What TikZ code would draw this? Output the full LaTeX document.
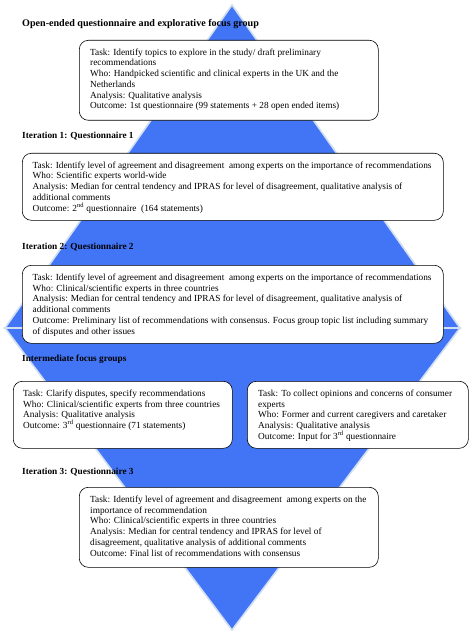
\documentclass[tikz,border=0pt]{standalone}
\usepackage{fontspec}
\setmainfont{Liberation Serif}
\definecolor{diamondblue}{RGB}{66,116,246}
\definecolor{diamondedge}{RGB}{208,222,242}
\begin{document}
\begin{tikzpicture}[
        x=1pt, y=-1pt,
        tri/.style={fill=diamondblue, draw=diamondedge, line width=1.6pt},
        rect/.style={rectangle, rounded corners=9pt, draw=black, fill=white, line width=0.6pt, anchor=north west},
        txt/.style={anchor=north west, align=left, inner sep=0pt, font=\fontsize{9.3}{10.75}\selectfont},
        head/.style={anchor=west, inner sep=0pt, font=\fontsize{9.3}{10.75}\selectfont\bfseries}
    ]
    \useasboundingbox (0,0) rectangle (470,639);

    % diamond behind the stages
    \coordinate (top) at (232,5);
    \coordinate (left) at (5,328);
    \coordinate (right) at (460,328);
    \coordinate (bottom) at (232,630);
    \filldraw[tri] (top) -- (right) -- (left) -- cycle;
    \filldraw[tri] (left) -- (right) -- (bottom) -- cycle;

    % headings
    \node[head, font=\fontsize{10.1}{12}\selectfont\bfseries] (h0) at (22,24) {Open-ended questionnaire and explorative focus group};
    \node[head] (h1) at (22,136) {Iteration 1: Questionnaire 1};
    \node[head] (h2) at (22,247) {Iteration 2: Questionnaire 2};
    \node[head] (h3) at (22,359) {Intermediate focus groups};
    \node[head] (h4) at (22,472) {Iteration 3: Questionnaire 3};

    % boxes
    \node[rect, minimum width=299pt, minimum height=80pt] (open) at (79,40) {};
    \node[rect, minimum width=421pt, minimum height=67pt] (q1) at (22,153) {};
    \node[rect, minimum width=421pt, minimum height=78pt] (q2) at (22,265) {};
    \node[rect, minimum width=219pt, minimum height=67pt] (fgexp) at (13,381) {};
    \node[rect, minimum width=221pt, minimum height=67pt] (fgcons) at (247,381) {};
    \node[rect, minimum width=299pt, minimum height=80pt] (q3) at (79,487) {};

    \node[txt] (opentxt) at ([xshift=11pt, yshift=-8.5pt]open.north west) {
        Task: Identify topics to explore in the study/ draft preliminary\\
        recommendations\\
        Who: Handpicked scientific and clinical experts in the UK and the\\
        Netherlands\\
        Analysis: Qualitative analysis\\
        Outcome: 1st questionnaire (99 statements + 28 open ended items)
    };
    \node[txt] (q1txt) at ([xshift=10.5pt, yshift=-8.5pt]q1.north west) {
        Task: Identify level of agreement and disagreement~ among experts on the importance of recommendations\\
        Who: Scientific experts world-wide\\
        Analysis: Median for central tendency and IPRAS for level of disagreement, qualitative analysis of\\
        additional comments\\
        Outcome: 2\textsuperscript{nd} questionnaire~ (164 statements)
    };
    \node[txt] (q2txt) at ([xshift=10.5pt, yshift=-8.5pt]q2.north west) {
        Task: Identify level of agreement and disagreement~ among experts on the importance of recommendations\\
        Who: Clinical/scientific experts in three countries\\
        Analysis: Median for central tendency and IPRAS for level of disagreement, qualitative analysis of\\
        additional comments\\
        Outcome: Preliminary list of recommendations with consensus. Focus group topic list including summary\\
        of disputes and other issues
    };
    \node[txt] (fgexptxt) at ([xshift=10pt, yshift=-8.5pt]fgexp.north west) {
        Task: Clarify disputes, specify recommendations\\
        Who: Clinical/scientific experts from three countries\\
        Analysis: Qualitative analysis\\
        Outcome: 3\textsuperscript{rd} questionnaire (71 statements)
    };
    \node[txt] (fgconstxt) at ([xshift=11pt, yshift=-8.5pt]fgcons.north west) {
        Task: To collect opinions and concerns of consumer\\
        experts\\
        Who: Former and current caregivers and caretaker\\
        Analysis: Qualitative analysis\\
        Outcome: Input for 3\textsuperscript{rd} questionnaire
    };
    \node[txt] (q3txt) at ([xshift=11pt, yshift=-8.5pt]q3.north west) {
        Task: Identify level of agreement and disagreement~ among experts on the\\
        importance of recommendation\\
        Who: Clinical/scientific experts in three countries\\
        Analysis: Median for central tendency and IPRAS for level of\\
        disagreement, qualitative analysis of additional comments\\
        Outcome: Final list of recommendations with consensus
    };
    \end{tikzpicture}
\end{document}
